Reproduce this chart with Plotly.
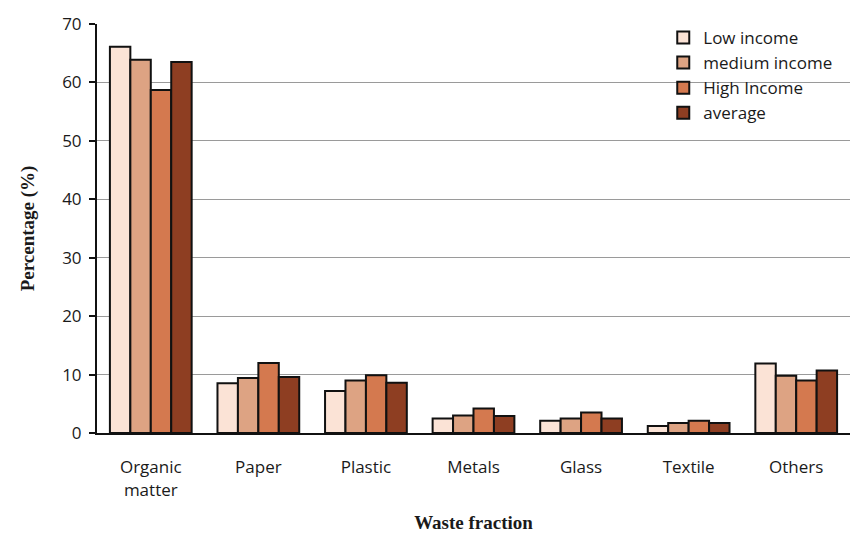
import plotly.graph_objects as go

categories = ["Organic<br>matter", "Paper", "Plastic", "Metals", "Glass", "Textile", "Others"]
low_income = [66.1, 8.5, 7.2, 2.5, 2.1, 1.2, 11.9]
medium_income = [63.9, 9.4, 9.0, 3.0, 2.5, 1.7, 9.8]
high_income = [58.7, 12.0, 9.9, 4.2, 3.5, 2.1, 9.0]
average = [63.5, 9.6, 8.6, 2.9, 2.5, 1.7, 10.7]

series = [
    ("Low income", low_income, "#FBE3D6"),
    ("medium income", medium_income, "#DDA383"),
    ("High Income", high_income, "#D4794F"),
    ("average", average, "#8E3E22"),
]

fig = go.Figure()
for name, vals, color in series:
    fig.add_trace(go.Bar(
        x=categories, y=vals, name=name,
        marker=dict(color=color, line=dict(color="#111111", width=2)),
    ))

tick_font = dict(family="Open Sans", size=17, color="#1a1a1a")
title_font = dict(family="Liberation Serif", size=19, color="#1a1a1a")

fig.update_layout(
    width=853, height=538,
    margin=dict(l=97, r=3, t=24, b=105),
    paper_bgcolor="white", plot_bgcolor="white",
    barmode="group", bargap=0.24, bargroupgap=0.0,
    font=dict(family="Open Sans", size=17, color="#1a1a1a"),
    legend=dict(
        x=0.752, y=1.01, xanchor="left", yanchor="top",
        bgcolor="rgba(0,0,0,0)", font=dict(size=17, family="Open Sans", color="#1a1a1a"),
        tracegroupgap=0, itemwidth=30,
    ),
    xaxis=dict(
        showline=True, linecolor="#111", linewidth=2,
        ticks="", showgrid=False, tickfont=tick_font, ticklabelstandoff=18,
        title=dict(text="<b>Waste fraction</b>", font=title_font, standoff=16),
    ),
    yaxis=dict(
        range=[0, 70], dtick=10,
        showline=True, linecolor="#111", linewidth=2,
        ticks="outside", ticklen=6, tickcolor="#111", tickwidth=2,
        tickfont=tick_font, ticklabelstandoff=4,
        showgrid=True, gridcolor="#9a9a9a", gridwidth=1,
        zeroline=False,
        title=dict(text="<b>Percentage (%)</b>", font=title_font, standoff=22),
    ),
)

fig.write_html("out.html")
